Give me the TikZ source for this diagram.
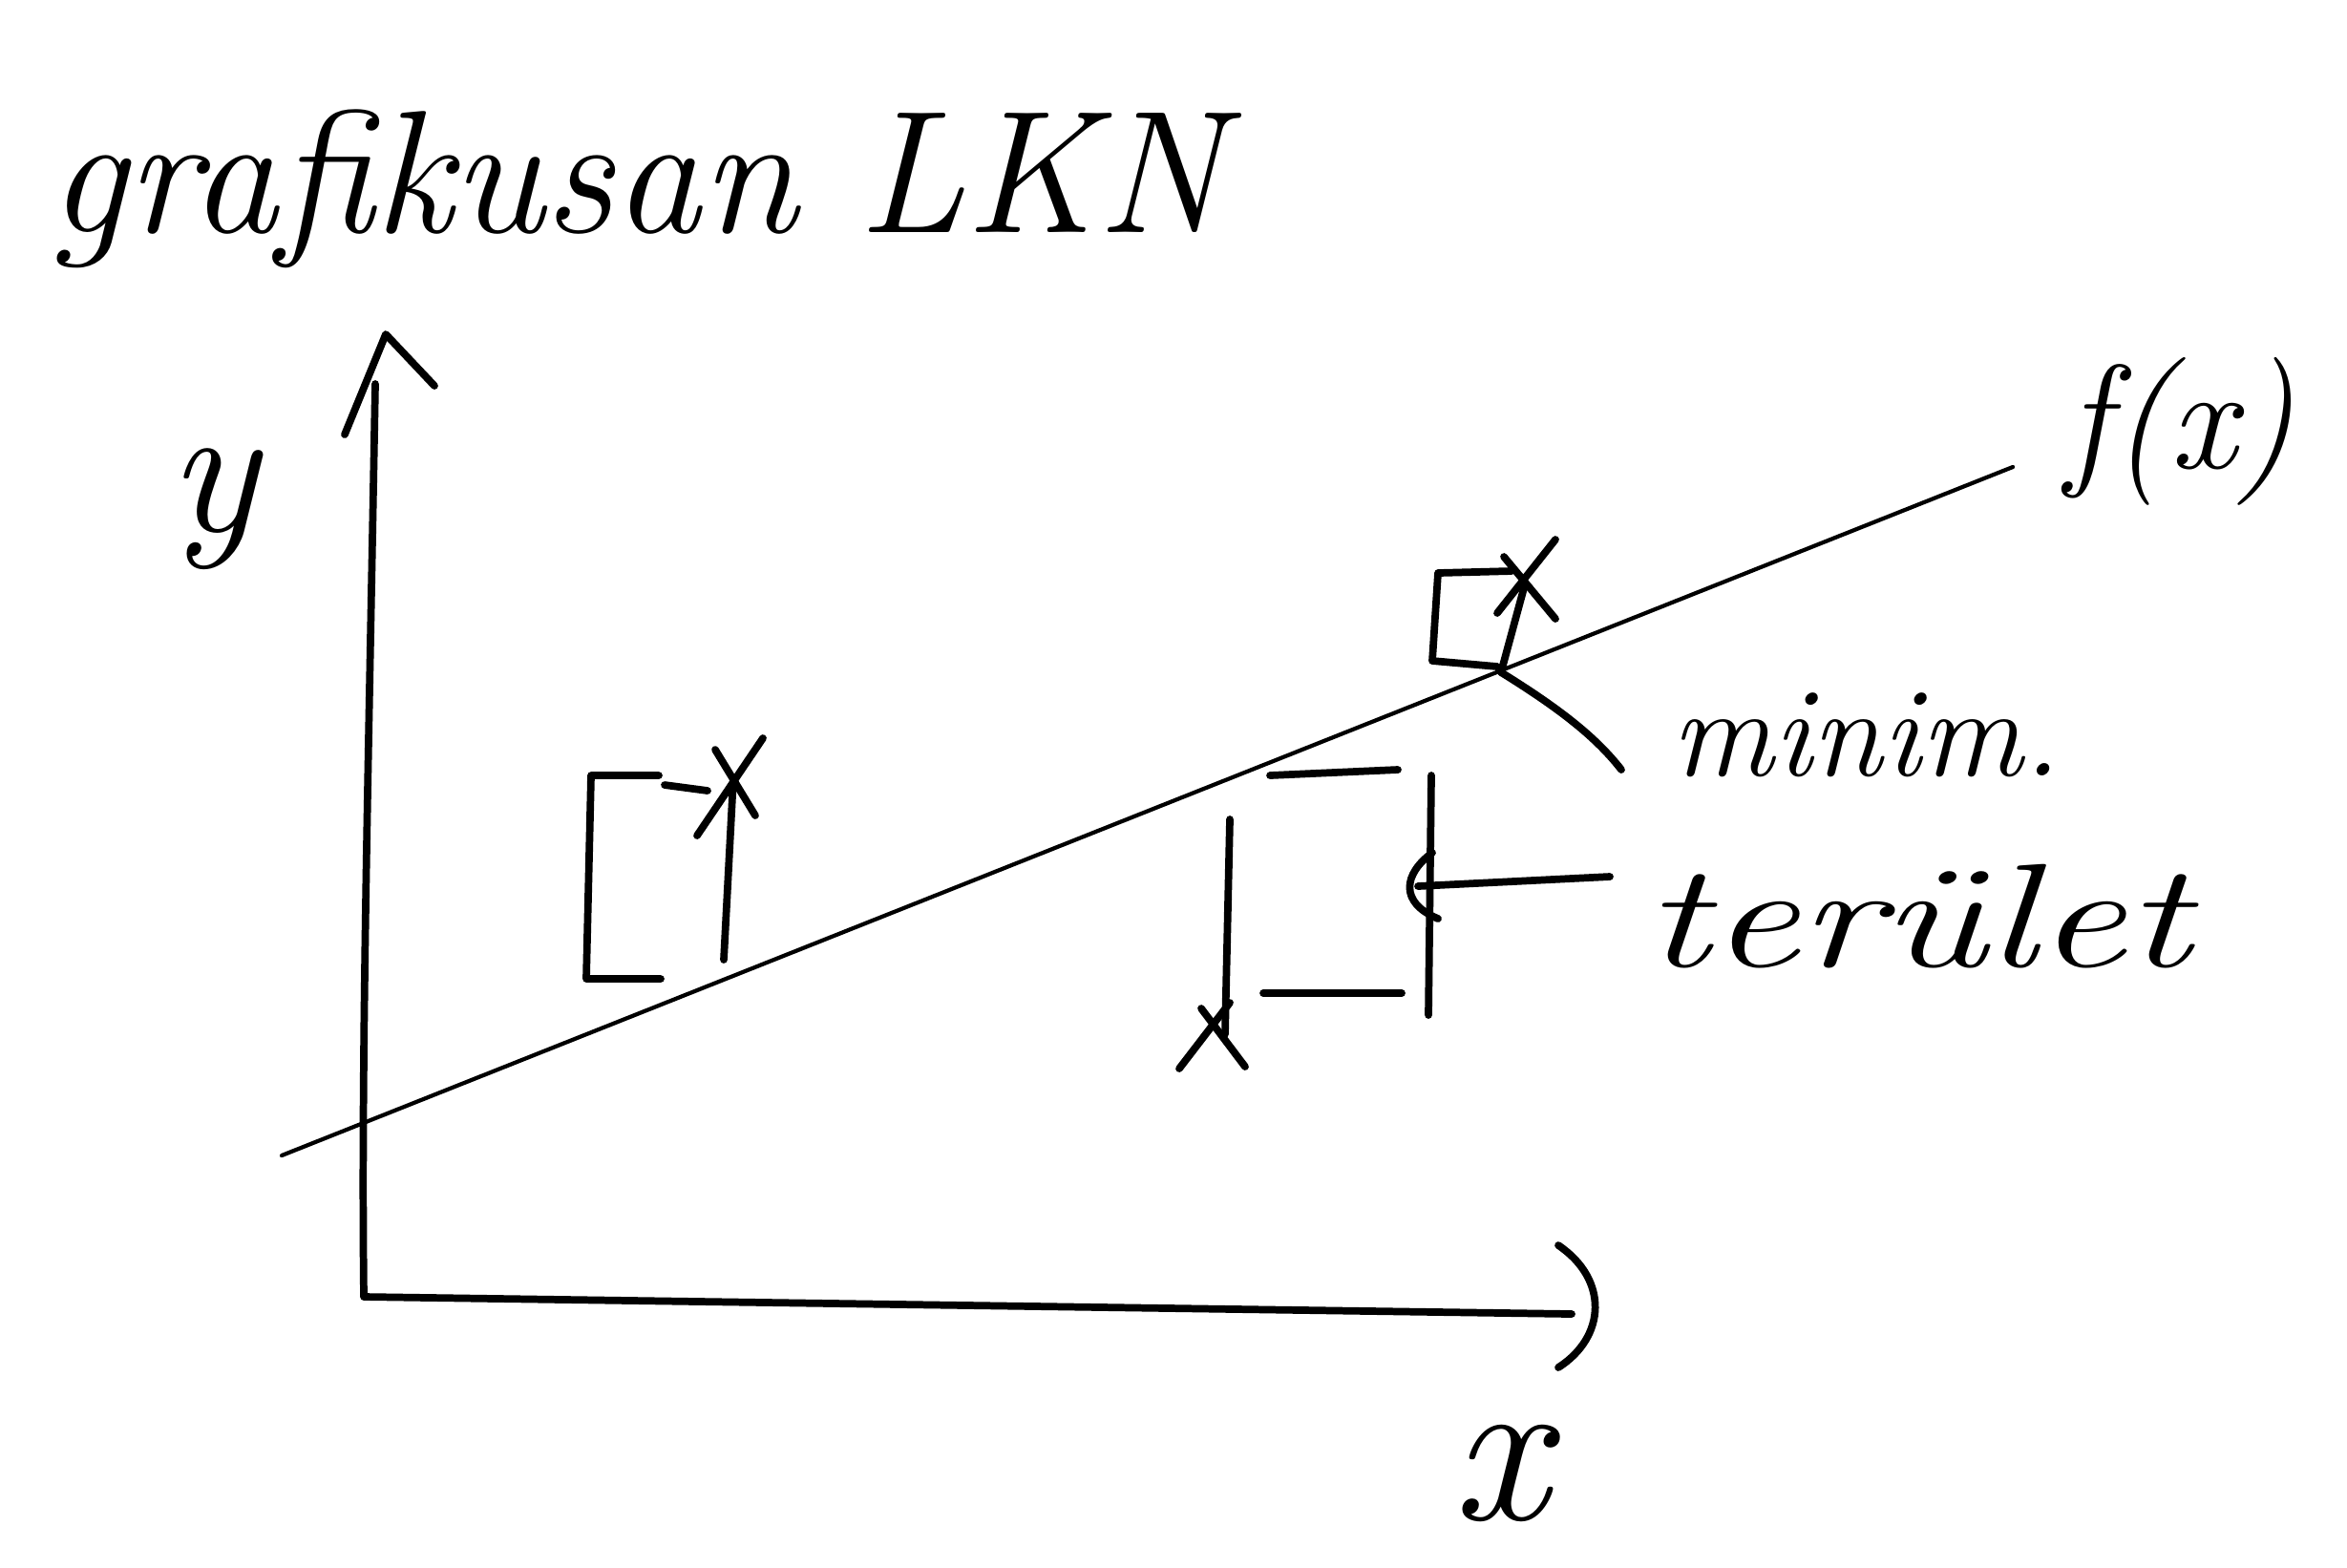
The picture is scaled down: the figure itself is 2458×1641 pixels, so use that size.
\documentclass[tikz,border=0pt]{standalone}
\usepackage{fontspec}
\usepackage{graphicx}
\begin{document}
\begin{tikzpicture}[x=0.01cm,y=-0.01cm,
  pen/.style={line width=2.2pt, line cap=round, line join=round},
  thinpen/.style={line width=1.2pt, line cap=round},
  lbl/.style={inner sep=0pt, anchor=base west}]
\useasboundingbox (0,0) rectangle (2458,1641);
\fill[white] (0,0) rectangle (2458,1641);

% ---- axes
\coordinate (O) at (381,1358);
\coordinate (ytop) at (393,402);
\coordinate (xend) at (1646,1376);
\draw[pen] (ytop) .. controls (386,800) and (378,1100) .. (O) -- (xend);
\draw[pen] (361,455) -- (404,350) -- (455,404);
\draw[pen] (1632,1304) .. controls (1685,1340) and (1682,1400) .. (1632,1432);

% ---- labels
\node[lbl, font=\fontsize{52}{60}\selectfont\itshape] (title) at (50,243) {grafikusan LKN};
\node[lbl, font=\fontsize{56}{64}\selectfont\itshape] (ylbl) at (176,556) {y};
\node[lbl, font=\fontsize{64}{72}\selectfont\itshape] (xlbl) at (1520,1591) {x};
\node[lbl, font=\fontsize{44}{52}\selectfont\itshape] (flbl) at (2163,490) {f(x)};
\node[lbl, font=\fontsize{38}{44}\selectfont\itshape] (minlbl) at (1750,812) {minim.};
\node[lbl, font=\fontsize{44}{52}\selectfont\itshape] (terlbl) at (1722,1012) {\scalebox{1.35}[1]{terület}};

% ---- regression line
\coordinate (f1) at (295,1210);
\coordinate (f2) at (2108,489);
\draw[thinpen] (f1) -- (f2);

% ---- point A
\coordinate (A) at (768,815);
\draw[pen] (749,785) -- (791,854);
\draw[pen] (799,773) -- (730,875);
\draw[pen] (A) -- (758,1005);
\draw[pen] (690,812) -- (619,812) -- (614,1025) -- (692,1025);
\draw[pen] (696,822) -- (741,828);

% ---- point B
\coordinate (B) at (1283,1083);
\draw[pen] (1258,1056) -- (1304,1117);
\draw[pen] (1288,1050) -- (1235,1119);
\draw[pen] (1288,858) -- (B);
\draw[pen] (1330,812) -- (1464,806);
\draw[pen] (1323,1040) -- (1468,1040);
\draw[pen] (1499,812) -- (1496,1063);
\coordinate (Bp) at (1686,918);
\draw[pen] (Bp) -- (1485,928);
\draw[pen] (1500,893) .. controls (1470,915) and (1465,945) .. (1506,962);

% ---- point C
\coordinate (C) at (1572,704);
\draw[pen] (1629,565) -- (1568,642);
\draw[pen] (1575,583) -- (1629,648);
\draw[pen] (1597,612) -- (C);
\draw[pen] (1583,598) -- (1506,600) -- (1500,692) -- (1568,698);
\coordinate (Cp) at (1698,806);
\draw[pen] (C) .. controls (1630,740) and (1670,770) .. (Cp);
\end{tikzpicture}
\end{document}
